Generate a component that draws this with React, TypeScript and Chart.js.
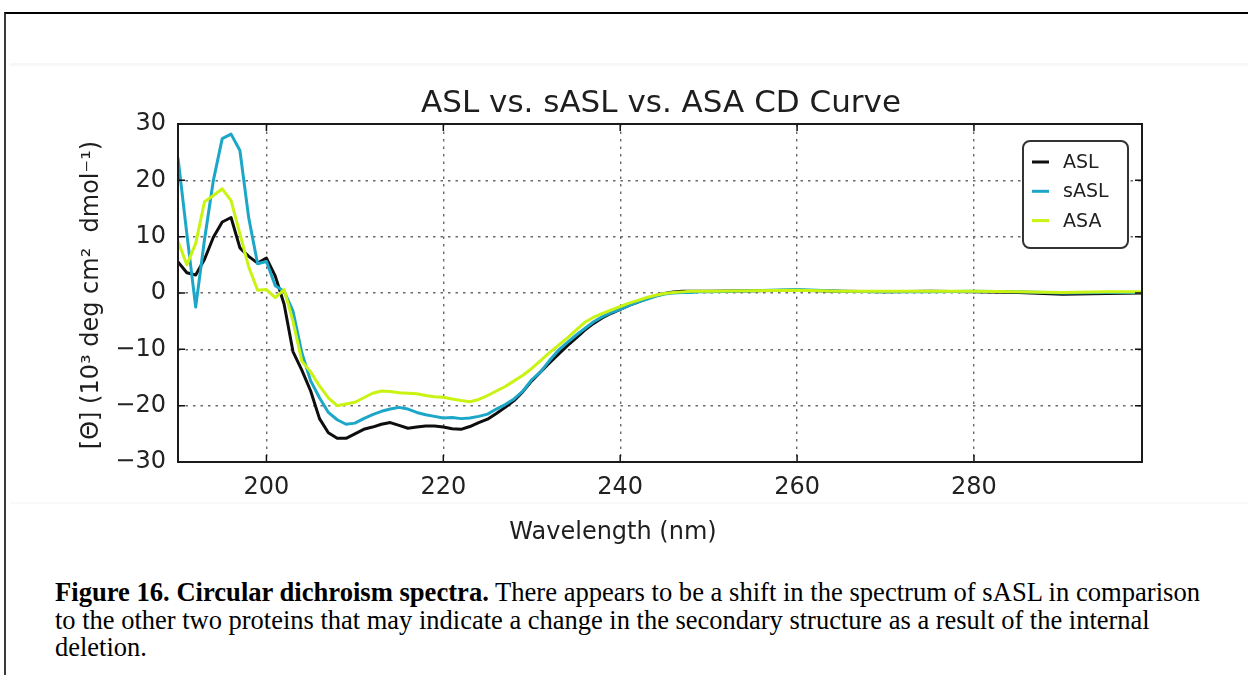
import React, { useEffect, useRef } from "react";
import { Chart, registerables } from "chart.js";

Chart.register(...registerables);

// ---------- data ----------
const wavelengths = [
  190, 191, 192, 193, 194, 195, 196, 197, 198, 199,
  200, 201, 202, 203, 204, 205, 206, 207, 208, 209,
  210, 211, 212, 213, 214, 215, 216, 217, 218, 219,
  220, 221, 222, 223, 224, 225, 226, 227, 228, 229,
  230, 231, 232, 233, 234, 235, 236, 237, 238, 239,
  240, 241, 242, 243, 244, 245, 246, 247, 248, 249, 250,
  255, 260, 265, 270, 275, 280, 285, 290, 295, 299,
];

const asl = [
  5.5, 3.6, 3.2, 6.0, 9.9, 12.6, 13.4, 8.0, 6.5, 5.3,
  6.2, 3.0, -2.0, -10.4, -13.7, -17.4, -22.3, -24.8, -25.8, -25.8,
  -25.0, -24.2, -23.8, -23.3, -23.0, -23.5, -24.0, -23.8, -23.6, -23.6,
  -23.8, -24.1, -24.2, -23.7, -23.0, -22.4, -21.4, -20.3, -19.1, -17.5,
  -15.6, -14.0, -12.4, -10.9, -9.4, -8.0, -6.6, -5.4, -4.4, -3.6,
  -2.9, -2.2, -1.6, -1.0, -0.5, -0.1, 0.2, 0.3, 0.3, 0.3, 0.3,
  0.4, 0.5, 0.3, 0.2, 0.3, 0.2, 0.1, -0.2, -0.1, 0.0,
];

const sasl = [
  24.0, 10.5, -2.5, 9.5, 20.0, 27.4, 28.2, 25.3, 13.3, 5.2,
  5.6, 1.3, 0.3, -3.2, -10.6, -15.6, -18.6, -21.2, -22.5, -23.3,
  -23.1, -22.3, -21.6, -21.0, -20.6, -20.3, -20.6, -21.2, -21.6, -21.9,
  -22.2, -22.1, -22.3, -22.2, -21.9, -21.5, -20.6, -19.8, -18.8, -17.4,
  -15.4, -14.0, -12.0, -10.2, -8.8, -7.5, -6.3, -5.1, -4.2, -3.5,
  -2.9, -2.2, -1.6, -1.1, -0.6, -0.2, 0.0, 0.1, 0.1, 0.2, 0.2,
  0.4, 0.6, 0.3, 0.2, 0.2, 0.3, 0.2, 0.0, 0.1, 0.1,
];

const asa = [
  9.2, 5.0, 8.8, 16.2, 17.3, 18.5, 16.4, 10.5, 4.6, 0.5,
  0.6, -0.8, 0.6, -5.0, -12.1, -14.0, -16.5, -18.6, -20.0, -19.7,
  -19.4, -18.6, -17.8, -17.4, -17.5, -17.7, -17.8, -17.9, -18.2, -18.4,
  -18.5, -18.8, -19.1, -19.3, -18.9, -18.2, -17.4, -16.6, -15.6, -14.6,
  -13.4, -12.0, -10.6, -9.3, -8.0, -6.6, -5.2, -4.3, -3.6, -3.0,
  -2.4, -1.8, -1.3, -0.8, -0.4, -0.1, 0.1, 0.2, 0.3, 0.3, 0.3,
  0.4, 0.5, 0.3, 0.3, 0.3, 0.3, 0.2, 0.1, 0.2, 0.2,
];

const seriesNames = ["ASL", "sASL", "ASA"];
const seriesColors = ["#0e0e0e", "#1ca7c8", "#c9f312"];
const xTicks = [200, 220, 240, 260, 280];
const yTicks = [-30, -20, -10, 0, 10, 20, 30];
const xRange = [190, 299];
const yRange = [-30, 30];

const chartTitle = "ASL vs. sASL vs. ASA CD Curve";
const xTitle = "Wavelength (nm)";
const yTitle = "[Θ] (10³ deg cm²  dmol⁻¹)";

const captionBold = "Figure 16. Circular dichroism spectra.";
const captionRest1 = " There appears to be a shift in the spectrum of sASL in comparison";
const captionLine2 = "to the other two proteins that may indicate a change in the secondary structure as a result of the internal";
const captionLine3 = "deletion.";

// ---------- layout constants ----------
const FONT = "'DejaVu Sans', 'Liberation Sans', sans-serif";
const CANVAS_LEFT = 10;
const CANVAS_TOP = 60;
const CANVAS_W = 1238;
const CANVAS_H = 500;

const decorPlugin = {
  id: "decor",
  afterDraw(chart: any) {
    const { ctx, chartArea: a, scales } = chart;
    const xs = scales.x;
    const ys = scales.y;
    ctx.save();
    // inward ticks on all four sides
    ctx.strokeStyle = "#111";
    ctx.lineWidth = 1.5;
    ctx.beginPath();
    for (const v of xTicks) {
      const px = xs.getPixelForValue(v);
      ctx.moveTo(px, a.bottom);
      ctx.lineTo(px, a.bottom - 7);
      ctx.moveTo(px, a.top);
      ctx.lineTo(px, a.top + 7);
    }
    for (const v of yTicks) {
      const py = ys.getPixelForValue(v);
      ctx.moveTo(a.left, py);
      ctx.lineTo(a.left + 7, py);
      ctx.moveTo(a.right, py);
      ctx.lineTo(a.right - 7, py);
    }
    ctx.stroke();
    // frame
    ctx.lineWidth = 2;
    ctx.strokeStyle = "#1a1a1a";
    ctx.strokeRect(a.left, a.top, a.right - a.left, a.bottom - a.top);

    // title
    ctx.fillStyle = "#1e1e1e";
    ctx.font = `31px ${FONT}`;
    ctx.textAlign = "center";
    ctx.textBaseline = "alphabetic";
    ctx.fillText(chartTitle, (a.left + a.right) / 2 + 1, a.top - 12);

    // x title
    ctx.font = `24px ${FONT}`;
    ctx.textBaseline = "middle";
    ctx.fillText(xTitle, (a.left + a.right) / 2 - 47, a.bottom + 71);

    // y title
    ctx.save();
    ctx.translate(a.left - 86, (a.top + a.bottom) / 2 + 2);
    ctx.rotate(-Math.PI / 2);
    ctx.font = `24px ${FONT}`;
    ctx.textAlign = "center";
    ctx.textBaseline = "middle";
    ctx.fillText(yTitle, 0, 0);
    ctx.restore();

    // legend
    const bw = 105;
    const bh = 107;
    const bx = a.right - 14 - bw;
    const by = a.top + 17;
    ctx.beginPath();
    ctx.roundRect(bx, by, bw, bh, 7);
    ctx.fillStyle = "#ffffff";
    ctx.fill();
    ctx.lineWidth = 2;
    ctx.strokeStyle = "#333";
    ctx.stroke();
    chart.data.datasets.forEach((ds: any, i: number) => {
      const ly = by + 21 + i * 29.3;
      ctx.beginPath();
      ctx.strokeStyle = ds.borderColor;
      ctx.lineWidth = 3;
      ctx.moveTo(bx + 9, ly);
      ctx.lineTo(bx + 26, ly);
      ctx.stroke();
      ctx.fillStyle = "#222";
      ctx.font = `19px ${FONT}`;
      ctx.textAlign = "left";
      ctx.textBaseline = "middle";
      ctx.fillText(ds.label, bx + 40, ly + 1);
    });
    ctx.restore();
  },
};

function fmtTick(v: number) {
  return v < 0 ? "\u2212" + Math.abs(v) : String(v);
}

function ChartBox() {
  const ref = useRef<HTMLCanvasElement | null>(null);
  useEffect(() => {
    if (!ref.current) return;
    const series = [asl, sasl, asa];
    const chart = new Chart(ref.current, {
      type: "line",
      data: {
        datasets: series.map((vals, i) => ({
          label: seriesNames[i],
          data: wavelengths.map((w, j) => ({ x: w, y: vals[j] })),
          borderColor: seriesColors[i],
          backgroundColor: seriesColors[i],
          borderWidth: 3,
          pointRadius: 0,
          tension: 0,
          fill: false,
          borderJoinStyle: "round",
          order: 2 - i,
        })),
      },
      options: {
        animation: false,
        responsive: false,
        events: [],
        layout: { padding: { left: 0, right: 106, top: 64, bottom: 58 } },
        plugins: {
          legend: { display: false },
          title: { display: false },
          tooltip: { enabled: false },
        },
        scales: {
          x: {
            type: "linear",
            min: xRange[0],
            max: xRange[1],
            afterBuildTicks: (s: any) => {
              s.ticks = xTicks.map((v) => ({ value: v }));
            },
            afterFit: (s: any) => {
              s.height = 40;
            },
            grid: { color: "#6a6a6a", lineWidth: 1.4, drawTicks: false },
            border: { display: false, dash: [2.5, 5] },
            ticks: {
              padding: 11,
              color: "#222",
              font: { family: FONT, size: 24 },
              maxRotation: 0,
              callback: (v: any) => fmtTick(Number(v)),
            },
          },
          y: {
            type: "linear",
            min: yRange[0],
            max: yRange[1],
            afterBuildTicks: (s: any) => {
              s.ticks = yTicks.map((v) => ({ value: v }));
            },
            afterFit: (s: any) => {
              s.width = 168;
            },
            grid: { color: "#6a6a6a", lineWidth: 1.4, drawTicks: false },
            border: { display: false, dash: [2.5, 5] },
            ticks: {
              padding: 12,
              color: "#222",
              font: { family: FONT, size: 24 },
              callback: (v: any) => fmtTick(Number(v)),
            },
          },
        },
      },
      plugins: [decorPlugin],
    } as any);
    return () => chart.destroy();
  }, []);
  return (
    <canvas
      ref={ref}
      width={CANVAS_W}
      height={CANVAS_H}
      style={{
        position: "absolute",
        left: CANVAS_LEFT,
        top: CANVAS_TOP,
        width: CANVAS_W,
        height: CANVAS_H,
      }}
    />
  );
}

function Caption() {
  const l1 = useRef<HTMLDivElement | null>(null);
  const l2 = useRef<HTMLDivElement | null>(null);
  const l3 = useRef<HTMLDivElement | null>(null);
  useEffect(() => {
    const fit = (el: HTMLDivElement | null, target: number) => {
      if (!el) return 1;
      const w = el.scrollWidth;
      const k = w > 0 ? target / w : 1;
      el.style.transform = `scaleX(${k})`;
      return k;
    };
    fit(l1.current, 1145);
    const k2 = fit(l2.current, 1095);
    if (l3.current) l3.current.style.transform = `scaleX(${k2})`;
  }, []);
  const lineStyle: React.CSSProperties = {
    position: "absolute",
    left: 55,
    whiteSpace: "nowrap",
    transformOrigin: "0 0",
    fontFamily: "'Liberation Serif', 'DejaVu Serif', serif",
    fontSize: 26.5,
    lineHeight: "28px",
    color: "#000",
    display: "inline-block",
  };
  return (
    <>
      <div ref={l1} style={{ ...lineStyle, top: 578 }}>
        <b>{captionBold}</b>
        {captionRest1}
      </div>
      <div ref={l2} style={{ ...lineStyle, top: 605.5 }}>
        {captionLine2}
      </div>
      <div ref={l3} style={{ ...lineStyle, top: 633 }}>
        {captionLine3}
      </div>
    </>
  );
}

export default function App() {
  return (
    <div
      style={{
        position: "fixed",
        left: 0,
        top: 0,
        width: 1248,
        height: 675,
        overflow: "hidden",
        background: "#ffffff",
      }}
    >
      <div
        style={{
          position: "absolute",
          left: 4,
          top: 12,
          width: 1300,
          height: 700,
          borderTop: "2px solid #000",
          borderLeft: "2px solid #3a3a3a",
        }}
      />
      <div
        style={{
          position: "absolute",
          left: 10,
          top: 63,
          width: 1250,
          height: 436,
          borderTop: "3px solid #f7f7f7",
          borderBottom: "2px solid #f9f9f9",
        }}
      />
      <ChartBox />
      <Caption />
    </div>
  );
}
